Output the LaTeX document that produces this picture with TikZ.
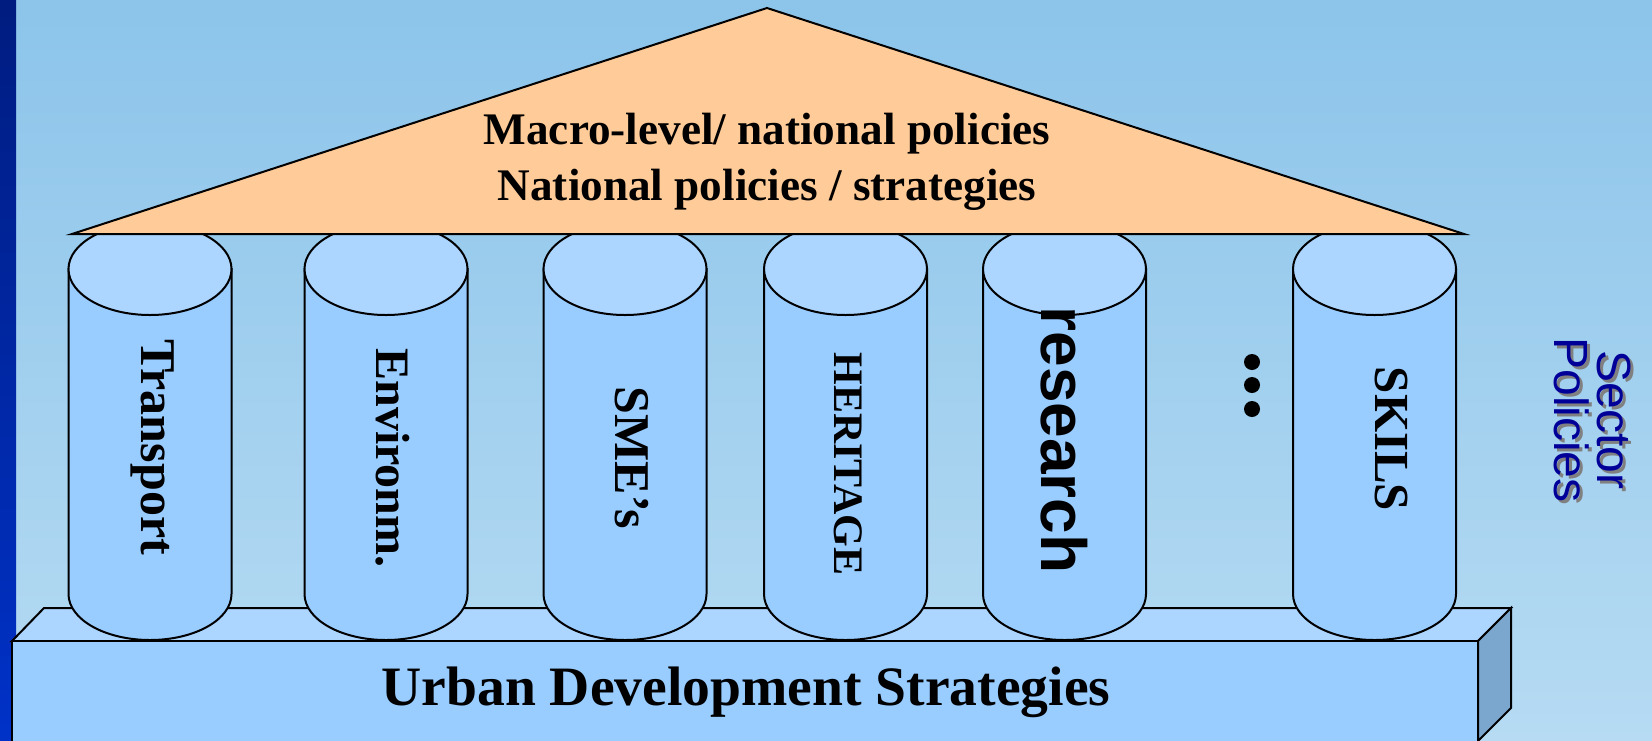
\documentclass[tikz,border=0pt]{standalone}
\usepackage{fontspec}
\setmainfont{Liberation Serif}
\newfontfamily\arialfont{Liberation Sans}
\usepackage{tikz}

\definecolor{bgtop}{RGB}{140,196,234}
\definecolor{bgbottom}{RGB}{182,219,243}
\definecolor{bartop}{RGB}{0,28,128}
\definecolor{barbottom}{RGB}{0,50,200}
\definecolor{pillarblue}{RGB}{153,204,255}
\definecolor{pillarlight}{RGB}{172,214,255}
\definecolor{sideblue}{RGB}{123,167,206}
\definecolor{roofpeach}{RGB}{255,204,153}
\definecolor{sectorblue}{RGB}{0,0,153}

\begin{document}
\begin{tikzpicture}[x=0.5pt,y=-0.5pt,
    pillar/.style={fill=pillarblue,draw=black,line width=1pt},
    pillartop/.style={fill=pillarlight,draw=black,line width=1pt},
    pillarlabel/.style={rotate=-90,inner sep=0pt,font=\bfseries\fontsize{25}{25}\selectfont}]
    \useasboundingbox (0,0) rectangle (1652,740);
    \shade[top color=bgtop,bottom color=bgbottom] (0,0) rectangle (1652,740);
    \shade[top color=bartop,bottom color=barbottom] (0,0) rectangle (16,740);
    % base
    \filldraw[pillartop] (12,641) -- (44,608) -- (1511,608) -- (1478,641) -- cycle;
    \filldraw[fill=sideblue,draw=black,line width=1pt] (1478,641) -- (1511,608) -- (1511,708) -- (1478,741) -- cycle;
    \filldraw[pillar] (12,641) rectangle (1478,742);
    % pillars
    \foreach \cx in {150,386,625,845.5,1064.5,1374.5}{
      \filldraw[pillar] (\cx-81.5,269) -- (\cx-81.5,594) arc[start angle=180,end angle=0,x radius=81.5,y radius=46] -- (\cx+81.5,269) -- cycle;
      \filldraw[pillartop] (\cx,269) ellipse[x radius=81.5,y radius=46];
    }
    % roof
    \filldraw[fill=roofpeach,draw=black,line width=1pt] (72,234) -- (767,8) -- (1464,234) -- cycle;
    \node[align=center,inner sep=0pt,font=\bfseries\fontsize{22.6}{28}\selectfont] (roof) at (767,162) {Macro-level/ national policies\\National policies / strategies};
    \node[inner sep=0pt,font=\bfseries\fontsize{27.8}{30}\selectfont] (urban) at (746,692) {Urban Development Strategies};
    \node[pillarlabel] (transport) at (153,447) {Transport};
    \node[pillarlabel,font=\bfseries\fontsize{24}{24}\selectfont] (environm) at (393,458) {Environm.};
    \node[pillarlabel] (sme) at (632,458) {SME’s};
    \node[pillarlabel,font=\bfseries\fontsize{21}{21}\selectfont] (heritage) at (848,464) {HERITAGE};
    \node[pillarlabel,font=\arialfont\bfseries\fontsize{32}{32}\selectfont] (research) at (1064,440) {research};
    \node[pillarlabel,font=\bfseries\fontsize{24.5}{24.5}\selectfont] (skils) at (1391,439) {SKILS};
    \fill (1252,362) circle[radius=8];
    \fill (1252,385) circle[radius=8];
    \fill (1252,409) circle[radius=8];
    \node[rotate=-90,align=center,inner sep=0pt,text=gray,font=\arialfont\fontsize{24}{21.5}\selectfont] at (1595,423) {Sector\\Policies};
    \node[rotate=-90,align=center,inner sep=0pt,text=sectorblue,font=\arialfont\fontsize{24}{21.5}\selectfont] (sector) at (1592,420) {Sector\\Policies};
\end{tikzpicture}
\end{document}
